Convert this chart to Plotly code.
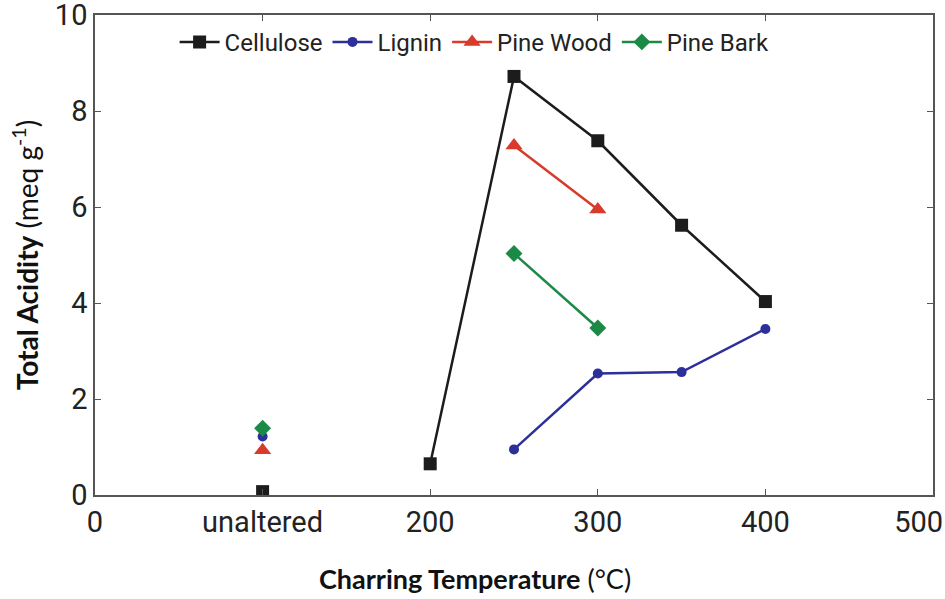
import plotly.graph_objects as go

cell_x = [100, 200, 250, 300, 350, 400]
cell_y = [0.07, 0.65, 8.72, 7.38, 5.62, 4.03]
lig_x = [100, 250, 300, 350, 400]
lig_y = [1.22, 0.95, 2.53, 2.56, 3.46]
pw_x = [100, 250, 300]
pw_y = [0.93, 7.28, 5.95]
pb_x = [100, 250, 300]
pb_y = [1.39, 5.03, 3.48]

tick_vals = [0, 100, 200, 300, 400, 500]
tick_text = ["0", "unaltered", "200", "300", "400", "500\u00a0\u00a0\u00a0\u00a0"]
y_tick_vals = [0, 2, 4, 6, 8, 10]

series = [
    ("Cellulose", cell_x, cell_y, "#1c1c1c", "square", 13),
    ("Lignin", lig_x, lig_y, "#2d2f9b", "circle", 10),
    ("Pine Wood", pw_x, pw_y, "#d83a2c", "triangle-up", 15),
    ("Pine Bark", pb_x, pb_y, "#1b8a47", "diamond", 13),
]

fig = go.Figure()
for name, xs, ys, col, sym, sz in series:
    fig.add_trace(go.Scatter(x=xs[1:], y=ys[1:], mode="lines+markers", name=name,
                             line=dict(color=col, width=2.5),
                             marker=dict(color=col, symbol=sym, size=sz),
                             legendgroup=name))
    fig.add_trace(go.Scatter(x=xs[:1], y=ys[:1], mode="markers", name=name,
                             marker=dict(color=col, symbol=sym, size=sz),
                             legendgroup=name, showlegend=False))

tick_font = dict(family="Roboto, sans-serif", size=29, color="#222")
fig.update_layout(
    width=945, height=599,
    margin=dict(l=95, r=12, t=15, b=104, autoexpand=False),
    paper_bgcolor="white", plot_bgcolor="white",
    showlegend=True,
    legend=dict(orientation="h", x=0.095, y=0.99, xanchor="left", yanchor="top",
                font=dict(family="Roboto, sans-serif", size=24, color="#222"),
                bgcolor="rgba(0,0,0,0)", itemwidth=40, tracegroupgap=0),
    xaxis=dict(range=[0, 500], tickvals=tick_vals, ticktext=tick_text, ticks="inside",
               ticklen=6, tickcolor="#555", showline=True, linecolor="#555", linewidth=1.5,
               mirror="ticks", showgrid=False, zeroline=False, tickfont=tick_font,
               ticklabeloverflow="allow", automargin=False),
    yaxis=dict(range=[0, 10], tickvals=y_tick_vals, ticks="inside",
               ticklen=6, tickcolor="#555", showline=True, linecolor="#555", linewidth=1.5,
               mirror="ticks", showgrid=False, zeroline=False, tickfont=tick_font,
               ticklabeloverflow="allow", automargin=False,
               title=dict(text="<b>Total Acidity</b> (meq g<sup>-1</sup>)", standoff=8,
                          font=dict(family="Lato, sans-serif", size=28, color="#111"))),
    annotations=[dict(text="<b>Charring Temperature</b> (°C)", xref="paper", yref="paper",
                      x=(475 - 95) / 838, y=-(578 - 495) / 480, xanchor="center", yanchor="middle",
                      showarrow=False,
                      font=dict(family="Lato, sans-serif", size=27, color="#111"))],
)

fig.write_html("out.html")
